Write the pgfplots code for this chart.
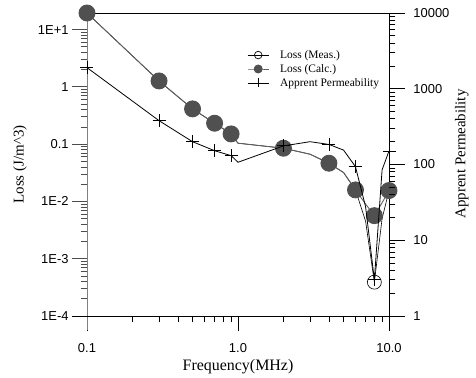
\documentclass[border=0pt]{standalone}
\usepackage{pgfplots}
\usepackage{pgfplotstable}
\pgfplotsset{compat=1.18}
\usepackage{fontspec}
\setmainfont{Liberation Serif}
\newfontfamily\sansfam{Liberation Sans}
\definecolor{calcfill}{HTML}{505050}
\definecolor{calcline}{HTML}{606060}
\definecolor{axgray}{HTML}{808080}

\pgfplotstableread{
f    calc     meas
0.1  19.5     19.5
0.3  1.27     1.27
0.5  0.413    0.413
0.7  0.232    0.232
0.9  0.151    0.151
1.0  0.104    0.104
2.0  0.085    0.085
3.0  0.0668   0.0668
4.0  0.0465   0.0465
5.0  0.032    0.032
6.0  0.0159   0.0159
7.0  0.009    0.0045
8.0  0.00565  0.00039
9.0  0.0095   0.005
10.0 0.0155   0.0155
}\losstable

\pgfplotstableread{
f    perm
0.1  1900
0.3  379
0.5  200
0.7  152
0.9  131
1.0  107
2.0  176
3.0  200
4.0  184
5.0  155
6.0  93.5
7.0  27.5
8.0  3.0
9.0  85
10.0 151
}\permtable

\begin{document}
\begin{tikzpicture}
\useasboundingbox (-87bp,-62bp) rectangle (389bp,316bp);
\begin{axis}[
  scale only axis, width=302bp, height=303bp,
  xmode=log, ymode=log,
  xmin=0.1, xmax=10, ymin=1e-4, ymax=19.5,
  axis x line*=bottom, axis y line*=left,
  axis line style={draw=none},
  clip=false,
  tick align=outside,
  major tick length=15bp, minor tick length=6.5bp,
  xtick={0.1,1,10}, xticklabels={0.1,1.0,10.0},
  minor xtick={0.2,0.3,0.4,0.5,0.6,0.7,0.8,0.9,2,3,4,5,6,7,8,9},
  ytick={1e-4,1e-3,1e-2,0.1,1,10}, yticklabels={1E-4,1E-3,1E-2,0.1,1,1E+1},
  minor ytick={0.0002,0.0003,0.0004,0.0005,0.0006,0.0007,0.0008,0.0009,
    0.002,0.003,0.004,0.005,0.006,0.007,0.008,0.009,
    0.02,0.03,0.04,0.05,0.06,0.07,0.08,0.09,
    0.2,0.3,0.4,0.5,0.6,0.7,0.8,0.9,2,3,4,5,6,7,8,9},
  tick label style={font=\sansfam\fontsize{13}{15}\selectfont},
  xticklabel style={yshift=-9bp},
  xtick style={black, line width=0.8bp},
  ytick style={axgray!60!black, line width=0.8bp},
  every axis x label/.style={at={([yshift=-51bp]axis description cs:0.5,0)}, anchor=center, font=\fontsize{16}{19}\selectfont},
  every axis y label/.style={at={([xshift=-67bp]axis description cs:0,0.5)}, anchor=center, rotate=90, font=\fontsize{15}{18}\selectfont},
  xlabel={Frequency(MHz)},
  ylabel={Loss (J/m\textasciicircum 3)},
  legend style={at={(axis description cs:0.53,0.884)}, anchor=north west, draw=none, fill=none,
    font=\fontsize{11.5}{13.2}\selectfont, row sep=0.5bp, column sep=9bp, inner sep=0pt},
  legend cell align=left,
  legend image code/.code={\draw[mark repeat=2,mark phase=2,#1] plot coordinates {(0bp,0bp) (10.5bp,0bp) (21bp,0bp)};},
]
\draw[axgray, line width=0.9bp] ([yshift=-14bp]rel axis cs:0,0) -- (rel axis cs:0,1);
\draw[black, line width=0.9bp] ([xshift=-15bp]rel axis cs:0,0) -- ([xshift=16bp]rel axis cs:1,0);
\draw[black, line width=0.9bp] ([yshift=-14bp]rel axis cs:1,0) -- (rel axis cs:1,1) -- (rel axis cs:0,1);

\addplot[black, line width=0.6bp, mark=o, mark size=7bp, mark indices={1,2,3,4,5,7,9,11,13,15}, forget plot]
  table[x=f, y=meas] {\losstable};
\addplot[calcline, line width=0.9bp, mark=*, mark size=8bp, mark options={fill=calcfill, draw=calcfill},
  mark indices={1,2,3,4,5,7,9,11,13,15}, forget plot]
  table[x=f, y=calc] {\losstable};

\addlegendimage{black, line width=0.7bp, mark=o, mark size=3.8bp, mark options={fill=white}}
\addlegendentry{Loss (Meas.)}
\addlegendimage{calcline, line width=0.9bp, mark=*, mark size=4bp, mark options={fill=calcfill, draw=calcfill}}
\addlegendentry{Loss (Calc.)}
\addlegendimage{black, line width=0.7bp, mark=+, mark size=4.5bp}
\addlegendentry{Apprent Permeability}
\end{axis}

\begin{axis}[
  scale only axis, width=302bp, height=303bp,
  xmode=log, ymode=log,
  xmin=0.1, xmax=10, ymin=1, ymax=10000,
  hide x axis,
  axis y line*=right,
  axis line style={draw=none},
  clip=false,
  tick align=outside,
  major tick length=16bp, minor tick length=6.5bp,
  ytick={1,10,100,1000,10000}, yticklabels={1,10,100,1000,10000},
  minor ytick={2,3,4,5,6,7,8,9,20,30,40,50,60,70,80,90,200,300,400,500,600,700,800,900,2000,3000,4000,5000,6000,7000,8000,9000},
  tick label style={font=\sansfam\fontsize{13}{15}\selectfont},
  yticklabel style={xshift=5bp},
  ytick style={black, line width=0.8bp},
  every axis y label/.style={at={([xshift=72.7bp,yshift=10.5bp]axis description cs:1,0.5)}, anchor=center, rotate=90, font=\fontsize{15}{18}\selectfont},
  ylabel={Apprent Permeability},
]
\addplot[black, line width=0.8bp, mark=+, mark size=6.5bp, mark indices={1,2,3,4,5,7,9,11,13,15}]
  table[x=f, y=perm] {\permtable};
\end{axis}
\end{tikzpicture}
\end{document}
